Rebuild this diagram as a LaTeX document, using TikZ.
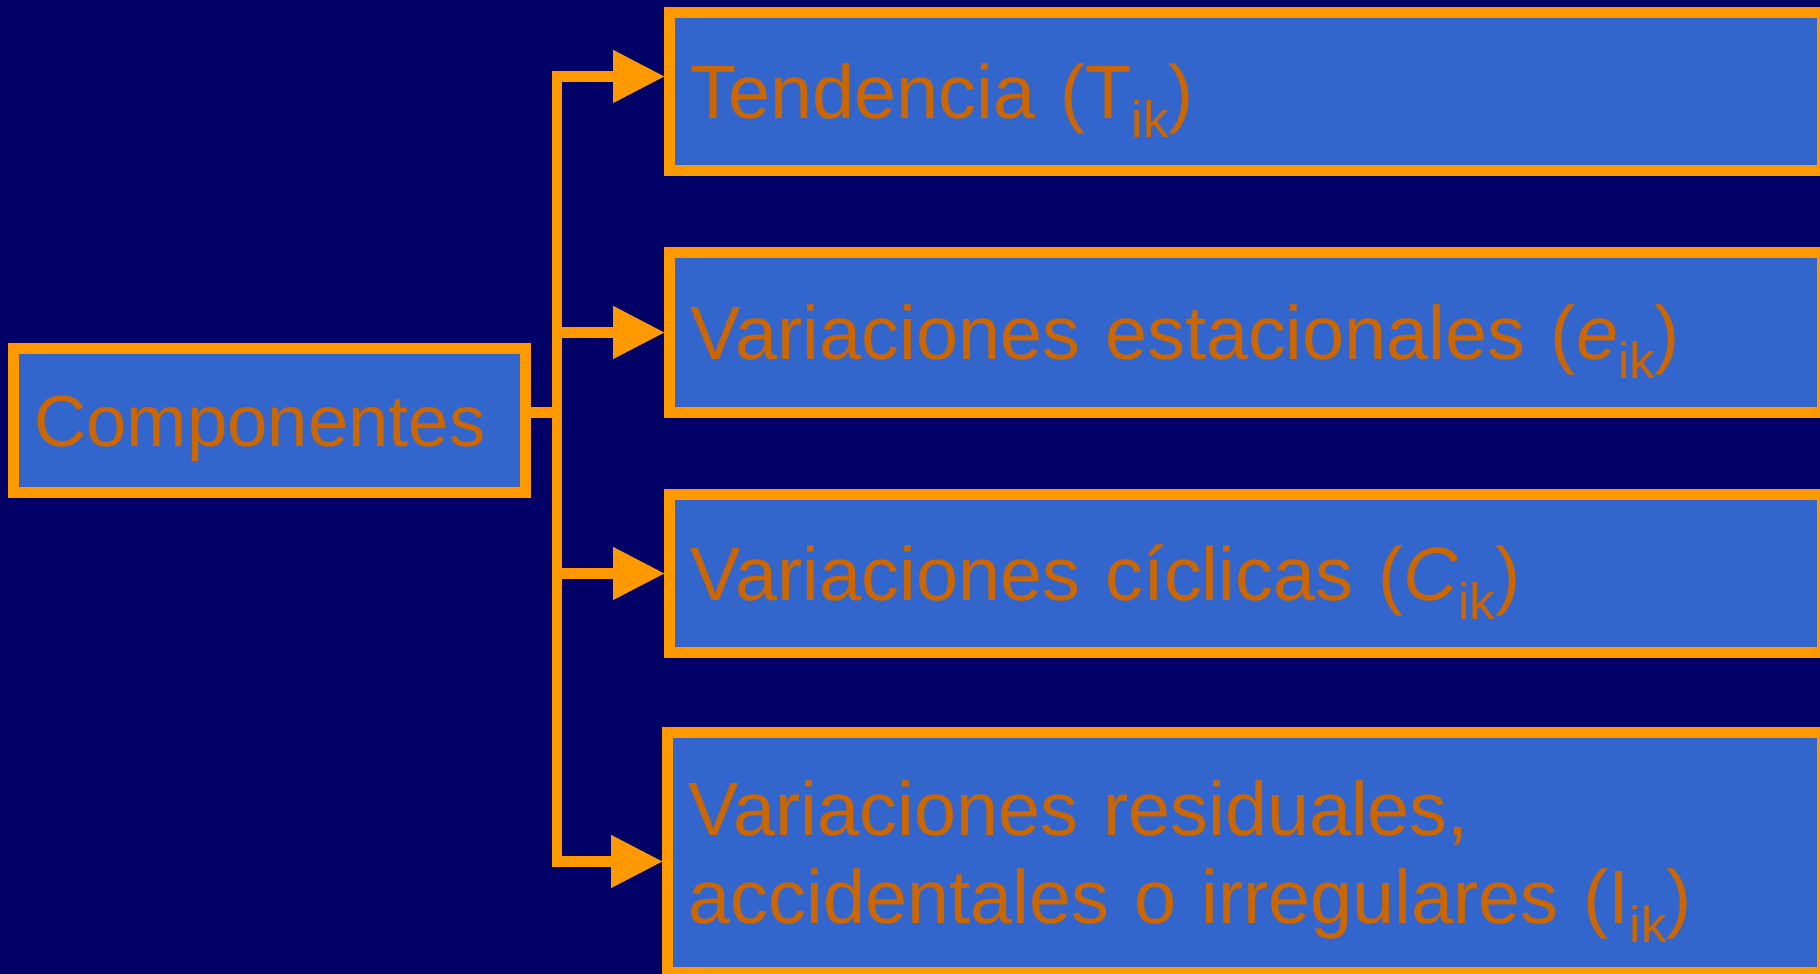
\documentclass[tikz,border=0pt]{standalone}
\usepackage{fontspec}
\setmainfont{Liberation Sans}
\usetikzlibrary{arrows.meta}
\definecolor{cFondo}{HTML}{000066}
\definecolor{cCaja}{HTML}{3366CC}
\definecolor{cBorde}{HTML}{FF9900}
\definecolor{cTexto}{HTML}{CC6600}
\newcommand{\subik}{\raisebox{-0.25em}{\fontsize{14.5}{14.5}\selectfont ik}}

\begin{document}
\begin{tikzpicture}[
    x=0.01cm, y=-0.01cm, font=\fontsize{21.5}{25}\selectfont,
    caja/.style={draw=cBorde, fill=cCaja, text=cTexto, line width=3.1pt,
                 inner xsep=0.21cm, inner ysep=0pt, align=left,
                 text height=15.4pt, text depth=0pt},
    tronco/.style={draw=cBorde, line width=3.1pt},
    flecha/.style={tronco,
                   -{Triangle[length=14.5pt, width=15.1pt, line width=0pt]}},
]

% ===================== Fondo =====================
\useasboundingbox (0,0) rectangle (1820,974);
\fill[cFondo] (0,0) rectangle (1820,974);

% ===================== Cajas =====================
\node[caja, minimum width=5.12cm, minimum height=1.44cm, text width=4.70cm,
      font=\fontsize{20.6}{25}\selectfont, text height=14.9pt]
      (comp) at (269.5,420.5) {Componentes};

\node[caja, minimum width=11.52cm, minimum height=1.58cm, text width=11.10cm]
      (tend) at (1246,91.5) {Tendencia (T\subik)};
\node[caja, minimum width=11.52cm, minimum height=1.60cm, text width=11.10cm]
      (esta) at (1246,332.5) {Variaciones estacionales (\textit{e}\subik)};
\node[caja, minimum width=11.52cm, minimum height=1.58cm, text width=11.10cm]
      (cicl) at (1246,573.5) {Variaciones cíclicas (\textit{C}\subik)};
\node[caja, minimum width=11.54cm, minimum height=2.40cm, text width=11.12cm,
      text depth=25pt]
      (resi) at (1245,852.5) {Variaciones residuales,\\
                              accidentales o irregulares (I\subik)};

% ===================== Conectores =====================
\coordinate (nudo) at (557,412.5);
\draw[tronco] ([yshift=0.08cm]comp.east) -- (nudo);
\foreach \dest/\dy in {tend/0.15cm, esta/0cm, cicl/0cm, resi/-0.09cm}
    \draw[flecha] (nudo) |- ([yshift=\dy]\dest.west);

\end{tikzpicture}
\end{document}
